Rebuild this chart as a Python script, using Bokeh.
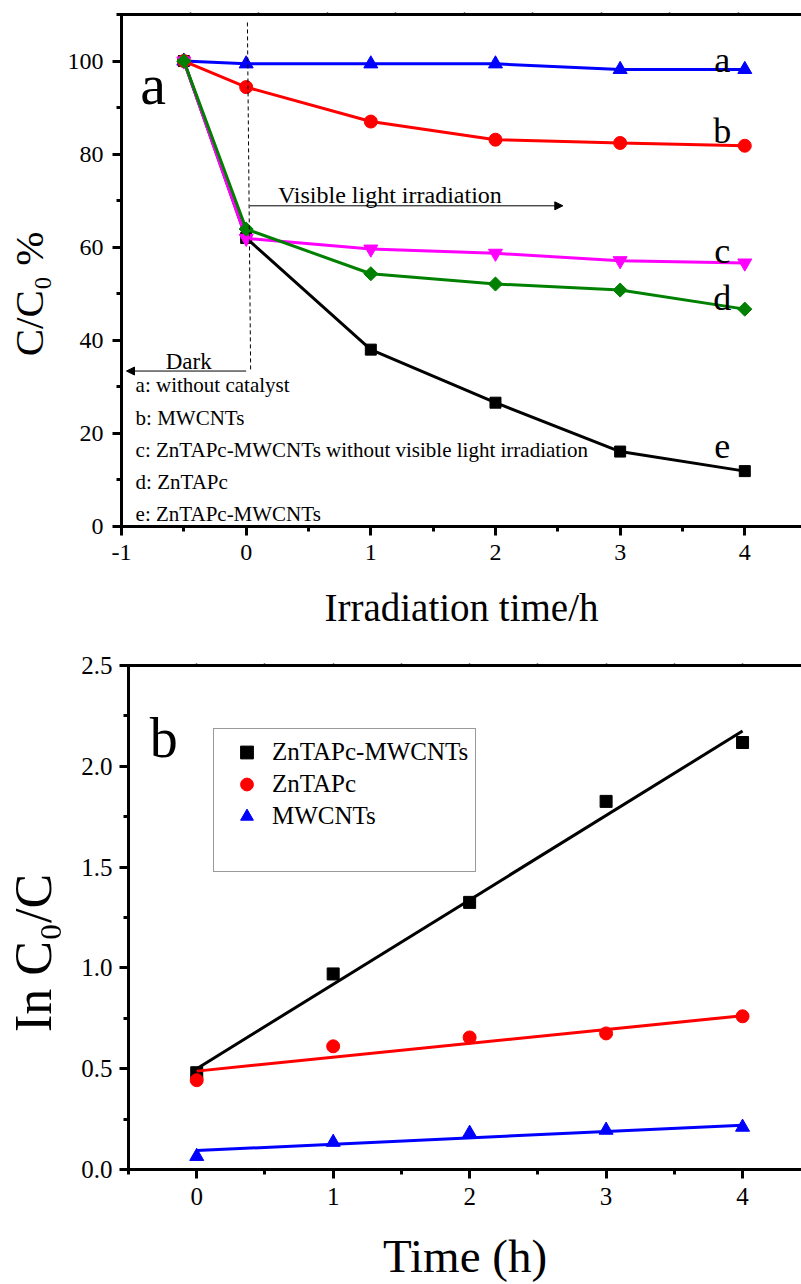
from bokeh.plotting import figure
from bokeh.models import (LinearAxis, SingleIntervalTicker, FixedTicker, Label, Arrow,
                          NormalHead, Legend, LegendItem, PrintfTickFormatter)
from bokeh.layouts import column, row
from bokeh.core.properties import value
from bokeh.embed import file_html
from bokeh.resources import INLINE
import numpy as np

FONT = "Liberation Serif"

# ---------------- panel a data ----------------
time_a = [-0.5, 0, 1, 2, 3, 4]
curve_a = [100, 99.4, 99.4, 99.4, 98.2, 98.2]     # without catalyst
curve_b = [100, 94.4, 87.0, 83.1, 82.4, 81.8]     # MWCNTs
curve_c = [100, 61.9, 59.6, 58.7, 57.1, 56.6]     # ZnTAPc-MWCNTs dark
curve_d = [100, 63.9, 54.3, 52.1, 50.8, 46.7]     # ZnTAPc
curve_e = [100, 62.0, 38.0, 26.6, 16.1, 11.9]     # ZnTAPc-MWCNTs

legend_a_texts = ["a: without catalyst", "b: MWCNTs",
                  "c: ZnTAPc-MWCNTs without visible light irradiation",
                  "d: ZnTAPc", "e: ZnTAPc-MWCNTs"]
legend_a_y = [30.4, 23.3, 16.4, 9.5, 2.6]
curve_letters = ["a", "b", "c", "d", "e"]
curve_letter_y = [100.3, 84.9, 59.1, 49.0, 17.2]
top_ticks_a = [-0.45, 0.1, 0.65, 1.2, 1.75, 2.3, 2.85, 3.4, 3.95]

# ---------------- panel b data ----------------
time_b = [0, 1, 2, 3, 4]
ln_e = [0.48, 0.97, 1.325, 1.826, 2.118]
ln_d = [0.443, 0.611, 0.655, 0.675, 0.760]
ln_a = [0.065, 0.135, 0.18, 0.195, 0.21]
fit_x = [0, 4]
fit_e = [0.50, 2.175]
fit_d = [0.488, 0.763]
fit_a = [0.094, 0.22]
legend_b_labels = ["ZnTAPc-MWCNTs", "ZnTAPc", "MWCNTs"]


def style_axis(ax, tick_size, label_size, tick_standoff, label_standoff):
    ax.axis_line_width = 3
    ax.axis_line_color = "black"
    ax.axis_line_cap = "square"
    ax.major_tick_line_width = 3
    ax.minor_tick_line_width = 3
    ax.major_tick_out = 9
    ax.major_tick_in = 0
    ax.minor_tick_out = 5
    ax.minor_tick_in = 0
    ax.major_label_text_font = FONT
    ax.major_label_text_font_size = tick_size
    ax.major_label_text_color = "black"
    ax.major_label_standoff = tick_standoff
    ax.axis_label_text_font = FONT
    ax.axis_label_text_font_size = label_size
    ax.axis_label_text_font_style = "normal"
    ax.axis_label_text_color = "black"
    ax.axis_label_standoff = label_standoff


def top_axis(p, ticks):
    ax = LinearAxis(ticker=FixedTicker(ticks=ticks))
    ax.axis_line_width = 3
    ax.axis_line_cap = "square"
    ax.major_tick_out = 2
    ax.major_tick_in = 0
    ax.major_tick_line_width = 1.5
    ax.minor_tick_line_color = None
    ax.major_label_text_font_size = "0px"
    ax.major_label_standoff = 0
    p.add_layout(ax, "above")


def label(p, x, y, text, size, align="center", baseline="alphabetic"):
    p.add_layout(Label(x=x, y=y, text=text, text_font=FONT, text_font_size=size,
                       text_color="black", text_align=align, text_baseline=baseline))


def title_strip(width, height, x, y, text, size):
    """Narrow figure holding a rotated y-axis title."""
    t = figure(width=width, height=height, x_range=(0, width), y_range=(0, height),
               output_backend="svg", toolbar_location=None,
               x_axis_location=None, y_axis_location=None, min_border=0)
    t.outline_line_color = None
    t.xgrid.visible = False
    t.ygrid.visible = False
    t.text(x=[x], y=[y], text=[text], angle=np.pi / 2, text_font=value(FONT),
           text_font_size=value(size), text_color="black",
           text_align="center", text_baseline="alphabetic")
    return t


# ================= Panel a =================
p1 = figure(width=746, height=645, x_range=(-1, 4.455), y_range=(0, 110),
            output_backend="svg", toolbar_location=None,
            min_border_left=66, min_border_right=0, min_border_top=14, min_border_bottom=119)
p1.outline_line_color = None
p1.xgrid.visible = False
p1.ygrid.visible = False
p1.xaxis.ticker = SingleIntervalTicker(interval=1, num_minor_ticks=2)
p1.yaxis.ticker = SingleIntervalTicker(interval=20, num_minor_ticks=2)
p1.xaxis.formatter = PrintfTickFormatter(format="%d")
p1.xaxis.axis_label = "Irradiation time/h"
style_axis(p1.xaxis[0], "24px", "39px", 9, 23)
style_axis(p1.yaxis[0], "24px", "40px", 9, 6)
top_axis(p1, top_ticks_a)

p1.line(time_a, curve_e, line_color="black", line_width=3)
p1.scatter(time_a, curve_e, marker="square", size=11, color="black")
p1.line(time_a, curve_a, line_color="#0000ff", line_width=3)
p1.scatter(time_a, curve_a, marker="triangle", size=14, color="#0000ff")
p1.line(time_a, curve_b, line_color="#ff0000", line_width=3)
p1.scatter(time_a, curve_b, marker="circle", size=13, color="#ff0000")
p1.line(time_a, curve_c, line_color="#ff00ff", line_width=3)
p1.scatter(time_a, curve_c, marker="inverted_triangle", size=14, color="#ff00ff")
p1.line(time_a, curve_d, line_color="#008000", line_width=3)
p1.scatter(time_a, curve_d, marker="square", angle=np.pi / 4, size=10, color="#008000")

# dark / light separation
p1.segment(x0=[0.01], y0=[108.3], x1=[0.036], y1=[33.4], line_color="black",
           line_width=1, line_dash="4 3")
p1.add_layout(Arrow(end=NormalHead(size=8, fill_color="black", line_color="black"),
                    x_start=0.03, y_start=68.9, x_end=2.54, y_end=68.9,
                    line_color="black", line_width=1))
p1.add_layout(Arrow(end=NormalHead(size=8, fill_color="black", line_color="black"),
                    x_start=0.0, y_start=33.4, x_end=-0.96, y_end=33.4,
                    line_color="black", line_width=1))
label(p1, 0.255, 71.3, "Visible light irradiation", "24px", align="left")
label(p1, -0.461, 35.4, "Dark", "23px")
for t, yy in zip(legend_a_texts, legend_a_y):
    label(p1, -0.887, yy, t, "21px", align="left", baseline="middle")
for t, yy in zip(curve_letters, curve_letter_y):
    label(p1, 3.82, yy, t, "36px")
label(p1, -0.747, 94.9, "a", "58px")

t1 = title_strip(55, 645, 28, 293, "C/C\u2080 %", "41px")

# ================= Panel b =================
p2 = figure(width=736, height=639, x_range=(-0.5, 4.432), y_range=(0, 2.5),
            output_backend="svg", toolbar_location=None,
            min_border_left=63, min_border_right=0, min_border_top=20, min_border_bottom=112)
p2.outline_line_color = None
p2.xgrid.visible = False
p2.ygrid.visible = False
p2.xaxis.ticker = SingleIntervalTicker(interval=1, num_minor_ticks=2)
p2.yaxis.ticker = SingleIntervalTicker(interval=0.5, num_minor_ticks=2)
p2.xaxis.formatter = PrintfTickFormatter(format="%d")
p2.yaxis.formatter = PrintfTickFormatter(format="%.1f")
p2.xaxis.axis_label = "Time (h)"
style_axis(p2.xaxis[0], "25px", "47px", 9, 22)
style_axis(p2.yaxis[0], "25px", "50px", 7, 18)
top_axis(p2, [-0.5 + 0.5 * k for k in range(1, 10)])

p2.line(fit_x, fit_e, line_color="black", line_width=3)
r_e = p2.scatter(time_b, ln_e, marker="square", size=12, color="black")
p2.line(fit_x, fit_d, line_color="#ff0000", line_width=3)
r_d = p2.scatter(time_b, ln_d, marker="circle", size=13, color="#ff0000")
p2.line(fit_x, fit_a, line_color="#0000ff", line_width=3)
r_a = p2.scatter(time_b, ln_a, marker="triangle", size=14, color="#0000ff")
r_dummy = p2.scatter(x=[], y=[], marker="circle", size=1, fill_alpha=0, line_alpha=0)

legend = Legend(items=[LegendItem(label=legend_b_labels[0], renderers=[r_e]),
                       LegendItem(label=legend_b_labels[1], renderers=[r_d]),
                       LegendItem(label=legend_b_labels[2], renderers=[r_a]),
                       LegendItem(label=" ", renderers=[r_dummy])],
                location=(85, 297), orientation="vertical",
                label_text_font=FONT, label_text_font_size="25px", label_text_color="black",
                glyph_width=51, glyph_height=32, label_height=32, label_standoff=0,
                padding=7, spacing=0, margin=0,
                border_line_color="#333333", border_line_width=1,
                background_fill_color="white", background_fill_alpha=1)
p2.add_layout(legend)
label(p2, -0.241, 2.139, "b", "56px")

t2 = title_strip(65, 639, 33, 274.5, "In C\u2080/C", "52px")

layout = column(row(t1, p1, spacing=0), row(t2, p2, spacing=0), spacing=0)
open("out.html", "w").write(file_html(layout, INLINE))
